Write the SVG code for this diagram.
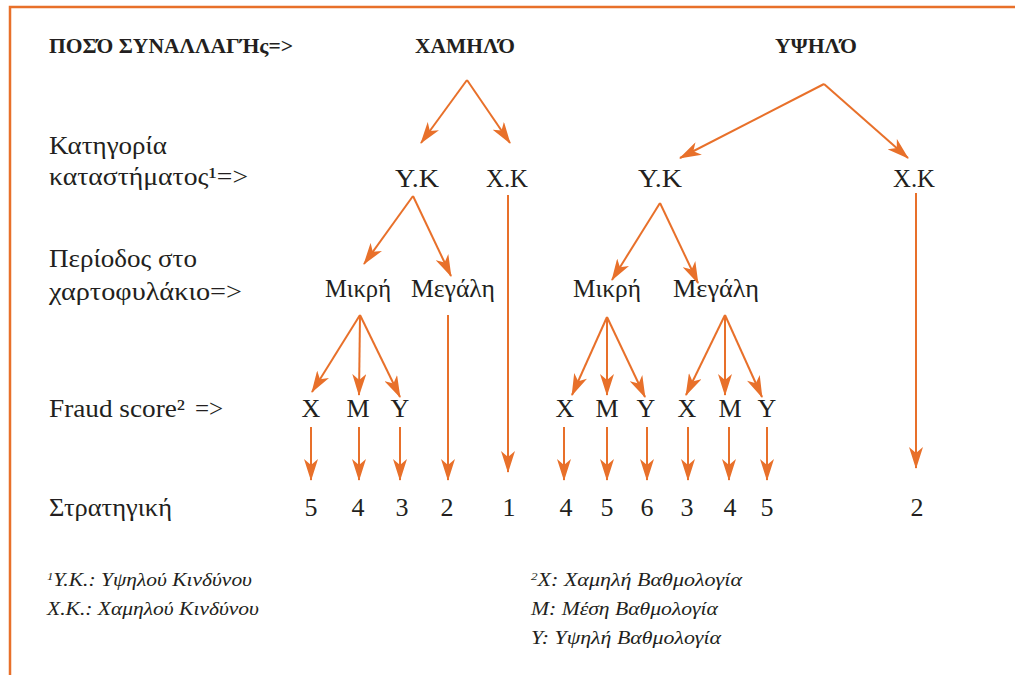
<svg xmlns="http://www.w3.org/2000/svg" width="1015" height="675" viewBox="0 0 1015 675">
<style>
.frame{fill:none;stroke:#E8702A;stroke-width:2.5}
.hd{font-family:"Liberation Serif","DejaVu Serif",serif;font-weight:bold;font-size:21px;fill:#231F20}
.lb{font-family:"Liberation Serif","DejaVu Serif",serif;font-size:25px;fill:#231F20}
.nd{font-family:"Liberation Serif","DejaVu Serif",serif;font-size:26px;fill:#231F20;text-anchor:middle}
.fn{font-family:"Liberation Serif","DejaVu Serif",serif;font-style:italic;font-size:18.5px;fill:#231F20}
.cn line{stroke:#E8702A;stroke-width:2}
</style>
<defs>
<marker id="ah" viewBox="0 0 22 14" refX="21" refY="7" markerWidth="22" markerHeight="14" markerUnits="userSpaceOnUse" orient="auto">
<path d="M0,0 L22,7 L0,14 L6,7 Z" fill="#E8702A"/>
</marker>
</defs>
<rect width="1015" height="675" fill="#FFFFFF"/>
<rect class="frame" x="10" y="7" width="1030" height="700"/>

<g id="labels">
<text class="hd" x="49" y="53" textLength="244" lengthAdjust="spacingAndGlyphs">ΠΟΣΌ ΣΥΝΑΛΛΑΓΉς=&gt;</text>
<text class="lb" x="49" y="154" textLength="118" lengthAdjust="spacingAndGlyphs">Κατηγορία</text>
<text class="lb" x="49" y="185" textLength="199" lengthAdjust="spacingAndGlyphs">καταστήματος¹=&gt;</text>
<text class="lb" x="49" y="267" textLength="148" lengthAdjust="spacingAndGlyphs">Περίοδος στο</text>
<text class="lb" x="49" y="300" textLength="193" lengthAdjust="spacingAndGlyphs">χαρτοφυλάκιο=&gt;</text>
<text class="lb" x="49" y="417"><tspan textLength="136" lengthAdjust="spacingAndGlyphs">Fraud score²</tspan><tspan x="195">=&gt;</tspan></text>
<text class="lb" x="49" y="516" textLength="123" lengthAdjust="spacingAndGlyphs">Στρατηγική</text>
</g>

<g id="n-low"><text class="hd" x="465" y="53" text-anchor="middle" textLength="100" lengthAdjust="spacingAndGlyphs">ΧΑΜΗΛΌ</text></g>
<g id="n-high"><text class="hd" x="816" y="53" text-anchor="middle" textLength="82" lengthAdjust="spacingAndGlyphs">ΥΨΗΛΌ</text></g>

<g id="n-low-yk"><text class="nd" x="417" y="187" textLength="44" lengthAdjust="spacingAndGlyphs">Υ.Κ</text></g>
<g id="n-low-xk"><text class="nd" x="507" y="187" textLength="42" lengthAdjust="spacingAndGlyphs">Χ.Κ</text></g>
<g id="n-high-yk"><text class="nd" x="660" y="187" textLength="44" lengthAdjust="spacingAndGlyphs">Υ.Κ</text></g>
<g id="n-high-xk"><text class="nd" x="914" y="187" textLength="42" lengthAdjust="spacingAndGlyphs">Χ.Κ</text></g>

<g id="n-l-mikri"><text class="nd" x="358" y="297" textLength="66" lengthAdjust="spacingAndGlyphs">Μικρή</text></g>
<g id="n-l-megali"><text class="nd" x="453" y="297" textLength="84" lengthAdjust="spacingAndGlyphs">Μεγάλη</text></g>
<g id="n-r-mikri"><text class="nd" x="607" y="297" textLength="68" lengthAdjust="spacingAndGlyphs">Μικρή</text></g>
<g id="n-r-megali"><text class="nd" x="716" y="297" textLength="86" lengthAdjust="spacingAndGlyphs">Μεγάλη</text></g>

<g id="n-fs1"><text class="nd" x="311" y="417">X</text></g>
<g id="n-fs2"><text class="nd" x="358" y="417">M</text></g>
<g id="n-fs3"><text class="nd" x="400" y="417">Y</text></g>
<g id="n-fs4"><text class="nd" x="565" y="417">X</text></g>
<g id="n-fs5"><text class="nd" x="607" y="417">M</text></g>
<g id="n-fs6"><text class="nd" x="646" y="417">Y</text></g>
<g id="n-fs7"><text class="nd" x="687" y="417">X</text></g>
<g id="n-fs8"><text class="nd" x="730" y="417">M</text></g>
<g id="n-fs9"><text class="nd" x="767" y="417">Y</text></g>

<g id="n-s1"><text class="nd" x="311" y="516">5</text></g>
<g id="n-s2"><text class="nd" x="358" y="516">4</text></g>
<g id="n-s3"><text class="nd" x="402" y="516">3</text></g>
<g id="n-s4"><text class="nd" x="447" y="516">2</text></g>
<g id="n-s5"><text class="nd" x="509" y="516">1</text></g>
<g id="n-s6"><text class="nd" x="566" y="516">4</text></g>
<g id="n-s7"><text class="nd" x="607" y="516">5</text></g>
<g id="n-s8"><text class="nd" x="647" y="516">6</text></g>
<g id="n-s9"><text class="nd" x="687" y="516">3</text></g>
<g id="n-s10"><text class="nd" x="730" y="516">4</text></g>
<g id="n-s11"><text class="nd" x="767" y="516">5</text></g>
<g id="n-s12"><text class="nd" x="917" y="516">2</text></g>

<g id="connectors" class="cn">
<line x1="467" y1="80" x2="421" y2="143" marker-end="url(#ah)"/>
<line x1="467" y1="80" x2="510" y2="143" marker-end="url(#ah)"/>
<line x1="824" y1="84" x2="680" y2="158" marker-end="url(#ah)"/>
<line x1="824" y1="84" x2="908" y2="158" marker-end="url(#ah)"/>
<line x1="413" y1="196" x2="364" y2="264" marker-end="url(#ah)"/>
<line x1="413" y1="196" x2="451" y2="276" marker-end="url(#ah)"/>
<line x1="508" y1="195" x2="508" y2="472" marker-end="url(#ah)"/>
<line x1="660" y1="203" x2="612" y2="280" marker-end="url(#ah)"/>
<line x1="660" y1="203" x2="698" y2="283" marker-end="url(#ah)"/>
<line x1="916" y1="193" x2="916" y2="468" marker-end="url(#ah)"/>
<line x1="360" y1="315" x2="312" y2="392" marker-end="url(#ah)"/>
<line x1="360" y1="315" x2="359" y2="395" marker-end="url(#ah)"/>
<line x1="360" y1="315" x2="400" y2="397" marker-end="url(#ah)"/>
<line x1="448" y1="315" x2="448" y2="480" marker-end="url(#ah)"/>
<line x1="607" y1="317" x2="572" y2="395" marker-end="url(#ah)"/>
<line x1="607" y1="317" x2="607" y2="395" marker-end="url(#ah)"/>
<line x1="607" y1="317" x2="645" y2="397" marker-end="url(#ah)"/>
<line x1="725" y1="315" x2="686" y2="395" marker-end="url(#ah)"/>
<line x1="725" y1="315" x2="725" y2="395" marker-end="url(#ah)"/>
<line x1="725" y1="315" x2="762" y2="397" marker-end="url(#ah)"/>
<line x1="311" y1="427" x2="311" y2="480" marker-end="url(#ah)"/>
<line x1="359" y1="427" x2="359" y2="480" marker-end="url(#ah)"/>
<line x1="400" y1="427" x2="400" y2="480" marker-end="url(#ah)"/>
<line x1="564" y1="427" x2="564" y2="480" marker-end="url(#ah)"/>
<line x1="607" y1="427" x2="607" y2="480" marker-end="url(#ah)"/>
<line x1="647" y1="427" x2="647" y2="480" marker-end="url(#ah)"/>
<line x1="688" y1="427" x2="688" y2="480" marker-end="url(#ah)"/>
<line x1="729" y1="427" x2="729" y2="480" marker-end="url(#ah)"/>
<line x1="767" y1="427" x2="767" y2="480" marker-end="url(#ah)"/>
</g>

<g id="footnotes">
<text class="fn" x="47" y="586" textLength="205" lengthAdjust="spacingAndGlyphs"><tspan font-size="11" dy="-6">1</tspan><tspan dy="6">Υ.Κ.: Υψηλού Κινδύνου</tspan></text>
<text class="fn" x="47" y="615" textLength="212" lengthAdjust="spacingAndGlyphs">Χ.Κ.: Χαμηλού Κινδύνου</text>
<text class="fn" x="531" y="586" textLength="211" lengthAdjust="spacingAndGlyphs"><tspan font-size="11" dy="-6">2</tspan><tspan dy="6">Χ: Χαμηλή Βαθμολογία</tspan></text>
<text class="fn" x="531" y="615" textLength="187" lengthAdjust="spacingAndGlyphs">Μ: Μέση Βαθμολογία</text>
<text class="fn" x="531" y="644" textLength="190" lengthAdjust="spacingAndGlyphs">Υ: Υψηλή Βαθμολογία</text>
</g>
</svg>
